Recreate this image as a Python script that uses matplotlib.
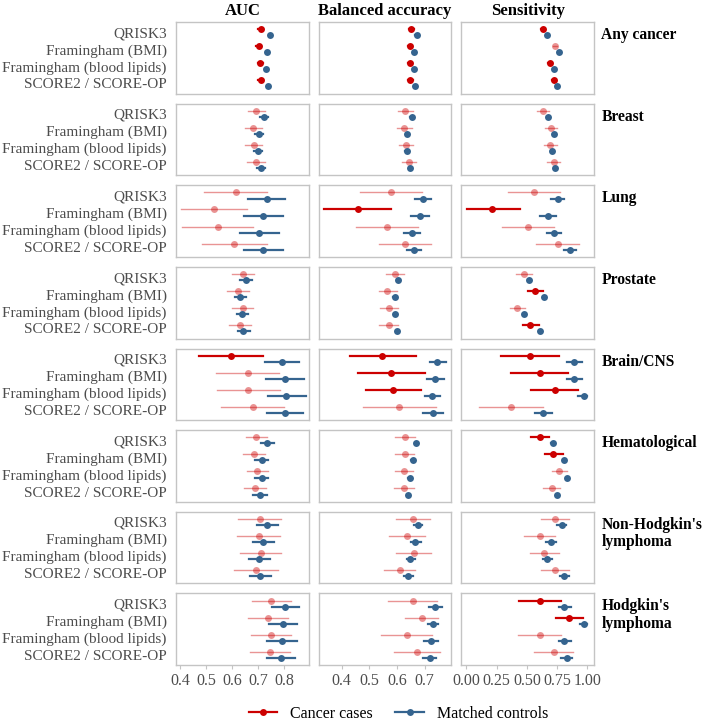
import matplotlib
matplotlib.use("Agg")
import matplotlib.pyplot as plt
from matplotlib.lines import Line2D

plt.rcParams["font.family"] = ["Liberation Serif", "DejaVu Serif"]

cancers = ["Any cancer", "Breast", "Lung", "Prostate", "Brain/CNS",
           "Hematological", "Non-Hodgkin's\nlymphoma", "Hodgkin's\nlymphoma"]
models = ["QRISK3", "Framingham (BMI)", "Framingham (blood lipids)", "SCORE2 / SCORE-OP"]
metrics = ["AUC", "Balanced accuracy", "Sensitivity"]

# ---- AUC ----
auc_case = [[0.71, 0.703, 0.709, 0.71], [0.694, 0.681, 0.684, 0.692],
            [0.616, 0.531, 0.546, 0.609], [0.642, 0.622, 0.641, 0.629],
            [0.596, 0.661, 0.661, 0.680], [0.692, 0.684, 0.697, 0.688],
            [0.707, 0.703, 0.710, 0.694], [0.750, 0.740, 0.748, 0.745]]
auc_case_lo = [[0.70, 0.693, 0.699, 0.70], [0.662, 0.65, 0.651, 0.658],
               [0.494, 0.403, 0.41, 0.485], [0.599, 0.58, 0.599, 0.588],
               [0.475, 0.54, 0.543, 0.558], [0.652, 0.644, 0.659, 0.648],
               [0.625, 0.619, 0.629, 0.609], [0.677, 0.661, 0.672, 0.668]]
auc_case_hi = [[0.72, 0.713, 0.719, 0.72], [0.727, 0.714, 0.716, 0.727],
               [0.736, 0.658, 0.68, 0.733], [0.684, 0.664, 0.682, 0.672],
               [0.72, 0.782, 0.784, 0.801], [0.733, 0.727, 0.74, 0.729],
               [0.789, 0.785, 0.788, 0.776], [0.826, 0.815, 0.825, 0.822]]
auc_ctrl = [[0.745, 0.736, 0.731, 0.737], [0.724, 0.703, 0.70, 0.712],
            [0.733, 0.72, 0.705, 0.72], [0.655, 0.631, 0.639, 0.643],
            [0.792, 0.803, 0.809, 0.803], [0.736, 0.716, 0.714, 0.707],
            [0.736, 0.72, 0.705, 0.707], [0.805, 0.796, 0.792, 0.789]]
auc_ctrl_lo = [[0.741, 0.732, 0.727, 0.733], [0.707, 0.69, 0.685, 0.697],
               [0.662, 0.646, 0.629, 0.645], [0.631, 0.612, 0.618, 0.622],
               [0.727, 0.729, 0.737, 0.735], [0.712, 0.69, 0.688, 0.681],
               [0.698, 0.68, 0.665, 0.668], [0.753, 0.744, 0.736, 0.736]]
auc_ctrl_hi = [[0.749, 0.74, 0.735, 0.741], [0.739, 0.72, 0.715, 0.727],
               [0.805, 0.795, 0.782, 0.797], [0.677, 0.655, 0.661, 0.668],
               [0.857, 0.877, 0.884, 0.873], [0.762, 0.74, 0.74, 0.736],
               [0.776, 0.762, 0.747, 0.749], [0.857, 0.848, 0.848, 0.841]]
auc_sig = [[1, 1, 1, 1], [0, 0, 0, 0], [0, 0, 0, 0], [0, 0, 0, 0],
           [1, 0, 0, 0], [0, 0, 0, 0], [0, 0, 0, 0], [0, 0, 0, 0]]

# ---- Balanced accuracy ----
ba_case = [[0.652, 0.647, 0.647, 0.649], [0.630, 0.627, 0.634, 0.643],
           [0.577, 0.46, 0.563, 0.629], [0.592, 0.565, 0.57, 0.57],
           [0.547, 0.58, 0.587, 0.607], [0.628, 0.628, 0.624, 0.625],
           [0.659, 0.635, 0.66, 0.61], [0.658, 0.689, 0.635, 0.673]]
ba_case_lo = [[0.644, 0.639, 0.639, 0.641], [0.605, 0.601, 0.607, 0.619],
              [0.467, 0.337, 0.453, 0.537], [0.56, 0.534, 0.539, 0.537],
              [0.429, 0.46, 0.487, 0.477], [0.592, 0.594, 0.592, 0.589],
              [0.598, 0.57, 0.598, 0.553], [0.568, 0.629, 0.541, 0.589]]
ba_case_hi = [[0.66, 0.655, 0.655, 0.657], [0.658, 0.653, 0.659, 0.67],
              [0.689, 0.58, 0.676, 0.724], [0.625, 0.599, 0.604, 0.604],
              [0.67, 0.70, 0.688, 0.742], [0.665, 0.663, 0.659, 0.663],
              [0.719, 0.701, 0.724, 0.667], [0.745, 0.75, 0.728, 0.757]]
ba_ctrl = [[0.671, 0.661, 0.662, 0.664], [0.653, 0.637, 0.635, 0.649],
           [0.694, 0.683, 0.655, 0.662], [0.605, 0.592, 0.594, 0.60],
           [0.746, 0.739, 0.728, 0.731], [0.67, 0.657, 0.646, 0.64],
           [0.676, 0.665, 0.648, 0.64], [0.739, 0.731, 0.722, 0.719]]
ba_ctrl_lo = [[0.667, 0.657, 0.658, 0.66], [0.648, 0.632, 0.63, 0.644],
              [0.664, 0.652, 0.625, 0.637], [0.6, 0.587, 0.589, 0.595],
              [0.718, 0.709, 0.703, 0.695], [0.665, 0.652, 0.641, 0.635],
              [0.66, 0.651, 0.635, 0.627], [0.715, 0.713, 0.699, 0.695]]
ba_ctrl_hi = [[0.675, 0.665, 0.666, 0.668], [0.658, 0.642, 0.64, 0.654],
              [0.724, 0.715, 0.685, 0.688], [0.61, 0.597, 0.599, 0.605],
              [0.779, 0.772, 0.755, 0.765], [0.675, 0.662, 0.651, 0.645],
              [0.692, 0.687, 0.665, 0.657], [0.763, 0.748, 0.748, 0.742]]
ba_sig = [[1, 1, 1, 1], [0, 0, 0, 0], [0, 1, 0, 0], [0, 0, 0, 0],
          [1, 1, 1, 0], [0, 0, 0, 0], [0, 0, 0, 0], [0, 0, 0, 0]]

# ---- Sensitivity ----
sens_case = [[0.63, 0.734, 0.69, 0.721], [0.633, 0.702, 0.693, 0.721],
             [0.556, 0.208, 0.51, 0.756], [0.477, 0.57, 0.422, 0.529],
             [0.529, 0.605, 0.729, 0.367], [0.611, 0.715, 0.767, 0.704],
             [0.734, 0.605, 0.644, 0.734], [0.605, 0.847, 0.605, 0.721]]
sens_case_lo = [[0.615, 0.719, 0.675, 0.706], [0.584, 0.646, 0.644, 0.669],
                [0.345, 0.003, 0.293, 0.578], [0.414, 0.51, 0.359, 0.465],
                [0.29, 0.373, 0.534, 0.107], [0.537, 0.647, 0.707, 0.633],
                [0.617, 0.479, 0.523, 0.617], [0.433, 0.74, 0.427, 0.556]]
sens_case_hi = [[0.645, 0.749, 0.705, 0.736], [0.679, 0.753, 0.748, 0.775],
                [0.77, 0.447, 0.726, 0.934], [0.543, 0.635, 0.485, 0.60],
                [0.762, 0.839, 0.921, 0.63], [0.682, 0.795, 0.83, 0.775],
                [0.852, 0.734, 0.767, 0.852], [0.784, 0.962, 0.781, 0.88]]
sens_ctrl = [[0.669, 0.762, 0.721, 0.748], [0.677, 0.721, 0.707, 0.732],
             [0.756, 0.674, 0.726, 0.858], [0.521, 0.641, 0.477, 0.611],
             [0.891, 0.891, 0.975, 0.636], [0.712, 0.806, 0.833, 0.751],
             [0.789, 0.699, 0.666, 0.811], [0.811, 0.975, 0.811, 0.83]]
sens_ctrl_lo = [[0.664, 0.757, 0.716, 0.743], [0.669, 0.713, 0.699, 0.724],
                [0.70, 0.611, 0.666, 0.811], [0.511, 0.631, 0.467, 0.601],
                [0.83, 0.83, 0.925, 0.567], [0.702, 0.796, 0.823, 0.741],
                [0.748, 0.66, 0.63, 0.775], [0.765, 0.94, 0.765, 0.784]]
sens_ctrl_hi = [[0.674, 0.767, 0.726, 0.753], [0.685, 0.729, 0.715, 0.74],
                [0.81, 0.74, 0.786, 0.907], [0.531, 0.651, 0.487, 0.621],
                [0.954, 0.954, 1.0, 0.707], [0.722, 0.816, 0.843, 0.761],
                [0.825, 0.74, 0.707, 0.847], [0.863, 1.0, 0.863, 0.877]]
sens_sig = [[1, 0, 1, 1], [0, 0, 0, 0], [0, 1, 0, 0], [0, 1, 0, 1],
            [1, 1, 1, 0], [1, 1, 0, 0], [0, 0, 0, 0], [1, 1, 0, 0]]

panels = [
    (auc_case, auc_case_lo, auc_case_hi, auc_ctrl, auc_ctrl_lo, auc_ctrl_hi, auc_sig),
    (ba_case, ba_case_lo, ba_case_hi, ba_ctrl, ba_ctrl_lo, ba_ctrl_hi, ba_sig),
    (sens_case, sens_case_lo, sens_case_hi, sens_ctrl, sens_ctrl_lo, sens_ctrl_hi, sens_sig),
]
xlims = [(0.386, 0.895), (0.318, 0.797), (-0.04, 1.055)]
xticks = [[0.4, 0.5, 0.6, 0.7, 0.8], [0.4, 0.5, 0.6, 0.7],
          [0.0, 0.25, 0.5, 0.75, 1.0]]
xticklabels = [["0.4", "0.5", "0.6", "0.7", "0.8"], ["0.4", "0.5", "0.6", "0.7"],
               ["0.00", "0.25", "0.50", "0.75", "1.00"]]

red = "#cc0000"
blue = "#35648f"
grey = "#4d4d4d"

fig, axes = plt.subplots(8, 3, figsize=(7.05, 7.2), dpi=100)
fig.subplots_adjust(left=0.25, right=0.8426, top=0.9694, bottom=0.0764,
                    wspace=0.076, hspace=0.14)

ypos = [4, 3, 2, 1]
for r in range(8):
    for c in range(3):
        ax = axes[r, c]
        case, clo, chi, ctrl, tlo, thi, sig = panels[c]
        for m in range(4):
            y = ypos[m]
            if sig[r][m]:
                ax.plot([clo[r][m], chi[r][m]], [y + 0.18, y + 0.18], color=red, lw=1.6)
                ax.plot(case[r][m], y + 0.18, "o", color=red, ms=5, mec="none")
            else:
                ax.plot([clo[r][m], chi[r][m]], [y + 0.18, y + 0.18], color=red,
                        lw=1.0, alpha=0.42)
                ax.plot(case[r][m], y + 0.18, "o", color=red, ms=5, mec="none",
                        alpha=0.42)
            ax.plot([tlo[r][m], thi[r][m]], [y - 0.18, y - 0.18], color=blue, lw=1.6)
            ax.plot(ctrl[r][m], y - 0.18, "o", color=blue, ms=5, mec="none")
        ax.set_xlim(xlims[c])
        ax.set_ylim(0.4, 4.6)
        for s in ax.spines.values():
            s.set_color("#c4c4c4")
            s.set_linewidth(1.0)
        ax.set_yticks(ypos)
        if c == 0:
            ax.set_yticklabels(models, fontsize=11, color=grey)
        else:
            ax.set_yticklabels([])
        ax.tick_params(axis="y", length=0, pad=7)
        ax.set_xticks(xticks[c])
        if r == 7:
            ax.set_xticklabels(xticklabels[c], fontsize=11.5, color=grey)
            ax.tick_params(axis="x", length=3, color="#c4c4c4", pad=3)
        else:
            ax.set_xticklabels([])
            ax.tick_params(axis="x", length=0)
        if r == 0:
            ax.set_title(metrics[c], fontsize=12, fontweight="bold", pad=5)
    axes[r, 2].text(1.055, 0.93, cancers[r], transform=axes[r, 2].transAxes,
                    fontsize=11.2, fontweight="bold", va="top", ha="left",
                    linespacing=1.1)

handles = [Line2D([0], [0], color=red, lw=1.6, marker="o", ms=5, mec="none"),
           Line2D([0], [0], color=blue, lw=1.6, marker="o", ms=5, mec="none")]
fig.legend(handles, ["Cancer cases", "Matched controls"], loc="center",
           bbox_to_anchor=(0.565, 0.009), ncol=2, frameon=False, fontsize=11.5,
           handlelength=1.8, columnspacing=1.4)

fig.savefig("out.png", dpi=100)
